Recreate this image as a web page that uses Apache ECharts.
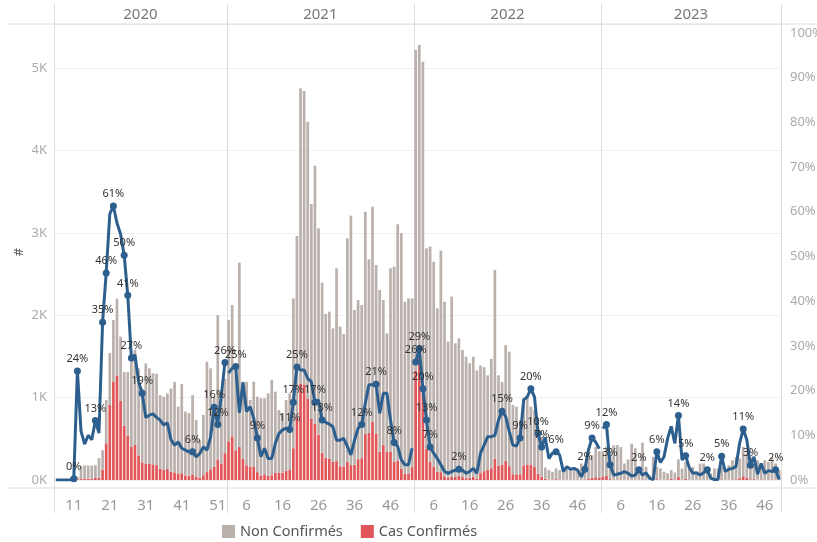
<!DOCTYPE html>
<html><head><meta charset="utf-8">
<script src="https://cdn.jsdelivr.net/npm/echarts@6/dist/echarts.min.js"></script>
<style>html,body{margin:0;padding:0;background:#fff}#c{width:817px;height:542px}</style>
</head><body><div id="c"></div>
<script>
// ---------- DATA ----------
const years = ['2020', '2021', '2022', '2023'];

const weeks2020 = [6,7,8,9,10,11,12,13,14,15,16,17,18,19,20,21,22,23,24,25,26,27,28,29,30,31,32,33,34,35,36,37,38,39,40,41,42,43,44,45,46,47,48,49,50,51,52,53];
const weeks2021 = [1,2,3,4,5,6,7,8,9,10,11,12,13,14,15,16,17,18,19,20,21,22,23,24,25,26,27,28,29,30,31,32,33,34,35,36,37,38,39,40,41,42,43,44,45,46,47,48,49,50,51,52];
const weeks2022 = [1,2,3,4,5,6,7,8,9,10,11,12,13,14,15,16,17,18,19,20,21,22,23,24,25,26,27,28,29,30,31,32,33,34,35,36,37,38,39,40,41,42,43,44,45,46,47,48,49,50,51,52];
const weeks2023 = [1,2,3,4,5,6,7,8,9,10,11,12,13,14,15,16,17,18,19,20,21,22,23,24,25,26,27,28,29,30,31,32,33,34,35,36,37,38,39,40,41,42,43,44,45,46,47,48,49,50];

// Cas Confirmés (red)
const conf2020 = [0,0,0,0,0,0,10,18,14,17,16,24,28,125,445,910,1190,1270,960,660,540,400,430,300,215,200,195,190,180,140,125,135,100,93,76,83,56,51,69,38,29,58,96,130,165,250,200,325];
const conf2021 = [470,530,360,400,260,180,160,165,95,52,70,50,58,88,88,90,113,122,386,760,1170,1160,990,740,680,550,330,270,260,220,229,166,165,220,180,184,253,265,560,570,705,565,344,424,345,344,225,233,135,74,75,156];
const conf2022 = [1330,1500,1050,380,220,160,100,95,45,25,42,36,50,35,22,27,39,20,83,107,123,143,255,170,188,233,168,71,68,69,177,188,187,158,77,40,14,6,6,10,7,2,4,3,4,3,1,5,17,28,34,25];
const conf2023 = [40,50,10,5,5,6,4,4,4,4,3,5,3,0,0,10,5,5,7,14,7,36,6,12,4,2,2,2,3,3,0,0,0,8,2,4,6,8,21,46,29,9,10,3,7,4,5,5,5,0];

// Non Confirmés (grey)
const non2020 = [0,0,0,0,0,0,30,152,161,158,159,156,237,235,525,630,750,930,780,650,770,1060,1150,1055,895,1215,1160,1105,1110,890,885,915,1010,1097,814,1082,774,759,961,692,461,732,1339,1225,845,1750,850,905];
const non2021 = [1472,1594,1040,2237,933,1013,811,1028,916,939,921,1002,1156,984,761,719,858,930,1818,2201,3583,3560,3358,2609,3134,2504,2065,1744,1783,1620,2340,1695,1607,2713,3028,1879,1931,1859,2696,2108,2612,2044,1962,1760,1435,2225,2364,2870,2860,2090,2129,2048];
const non2022 = [3888,3779,4026,2431,2612,2489,1983,2688,2119,1654,2183,1622,1669,1543,1475,1389,1458,1310,1307,1263,1147,1327,2293,1100,1002,1405,1389,839,822,659,814,823,703,692,550,486,136,114,94,130,113,98,136,117,146,127,199,175,233,272,366,325];
const non2023 = [310,354,290,415,420,394,196,246,436,381,117,448,157,60,280,150,135,95,73,106,83,214,134,208,156,158,98,198,197,137,80,140,140,152,98,176,234,272,239,354,291,271,190,237,173,236,215,275,195,120];

// % confirmés (line)
const pct2020 = [0,0,0,0,0,0.3,24.4,11,8,10,9,13.3,10.5,35.3,46.3,59.5,61.3,57.5,55,50.3,41.3,27.3,28,22,19.4,14,14.5,14.8,14,13.4,12.3,12.8,9,7.8,8.5,7.1,6.7,6.3,6.3,5.2,5.9,7.4,6.7,9.6,16.3,12.4,19,26.3];
const pct2021 = [23.9,25,25.4,15,21.8,15.3,16.4,13.8,9.4,5.2,7.1,4.8,4.8,8.2,10.4,11.2,11.6,11.3,17.4,25.3,24.6,24.6,22.7,22,17.4,17.9,13.4,12.9,12.5,11.9,8.9,8.9,9.3,7.5,5.6,8.9,11.6,12.4,17.2,21.3,21.3,21.4,14.9,19.4,19.4,13.4,8.4,7.5,4.5,3.4,3.4,7.1];
const pct2022 = [26.4,29.4,20.4,13.4,7.4,6,4.8,3.4,1.9,1.5,1.9,2.2,2.4,2.2,1.5,1.9,2.6,1.5,6,7.8,9.7,9.7,10,13.4,15.4,14.2,10.8,7.8,7.6,9.4,17.9,18.6,20.4,18.6,10.4,7.4,9.5,4.8,6,6.3,5.6,1.9,3,2.4,2.6,2.2,0.7,2.4,6.7,9.4,8.5,7];
const pct2023 = [11.5,12.4,3.4,1.1,1.3,1.5,1.9,1.5,0.9,1.1,2.3,1.1,1.6,0.4,0.1,6.3,3.9,5.2,9.3,12,8.2,14.4,4.5,5.4,2.8,1.5,1.6,1.1,1.6,2.3,0.4,0.1,0.1,5.3,1.9,2.4,2.6,3,8.2,11.4,9,3.3,5.2,1.3,3.7,1.5,2.1,1.9,2.3,0.1];

// weeks whose % value is labelled
const labelled2020 = [11,12,17,19,20,22,25,26,27,30,44,50,51,53];
const labelled2021 = [3,9,18,19,20,25,27,38,42,47];
const labelled2022 = [1,2,3,4,5,13,25,30,33,35,36,40,48,50];
const labelled2023 = [2,3,11,16,22,24,30,34,40,42,49];

// x tick labels shown
const ticks2020 = [11,21,31,41,51];
const ticks2021 = [6,16,26,36,46];
const ticks2022 = [6,16,26,36,46];
const ticks2023 = [6,16,26,36,46];

// ---------- BUILD ----------
const yearSets = [
  {year: years[0], weeks: weeks2020, conf: conf2020, non: non2020, pct: pct2020, lab: labelled2020, ticks: ticks2020},
  {year: years[1], weeks: weeks2021, conf: conf2021, non: non2021, pct: pct2021, lab: labelled2021, ticks: ticks2021},
  {year: years[2], weeks: weeks2022, conf: conf2022, non: non2022, pct: pct2022, lab: labelled2022, ticks: ticks2022},
  {year: years[3], weeks: weeks2023, conf: conf2023, non: non2023, pct: pct2023, lab: labelled2023, ticks: ticks2023}
];

const cats = [], confAll = [], nonAll = [], tickIdx = new Set(), bounds = [0];
yearSets.forEach(ys => {
  ys.weeks.forEach((w, i) => {
    if (ys.ticks.includes(w)) tickIdx.add(cats.length);
    cats.push(ys.year + '-' + w);
    confAll.push(ys.conf[i]);
    nonAll.push(ys.non[i]);
  });
  bounds.push(cats.length);
});

const FONT = '"Noto Sans", "Open Sans", sans-serif';
const LINE_COLOR = '#2d5f8e';

function lineSeries(k) {
  const data = [];
  yearSets.forEach((ys, y) => {
    ys.weeks.forEach((w, i) => {
      if (y !== k) { data.push('-'); return; }
      const v = ys.pct[i];
      if (ys.lab.includes(w)) {
        data.push({value: v, symbolSize: 7, label: {show: true}});
      } else {
        data.push({value: v, symbolSize: 0});
      }
    });
  });
  return {
    type: 'line', name: 'pct' + k, yAxisIndex: 1, data: data,
    symbol: 'circle', showSymbol: true, showAllSymbol: true,
    lineStyle: {color: LINE_COLOR, width: 3},
    itemStyle: {color: LINE_COLOR},
    label: {show: false, position: 'top', distance: 3, fontSize: 11, color: '#333', fontFamily: FONT,
      formatter: p => Math.round(p.value) + '%'},
    labelLayout: {hideOverlap: false},
    emphasis: {disabled: true}, z: 5, silent: true
  };
}

const chart = echarts.init(document.getElementById('c'), null, {renderer: 'canvas'});
const option = {
  animation: false,
  backgroundColor: '#fff',
  grid: {left: 54, right: 36, top: 24, bottom: 62, containLabel: false, outerBoundsMode: 'none'},
  legend: {
    data: ['Non Confirmés', 'Cas Confirmés'],
    left: 217, top: 519, icon: 'rect', itemWidth: 13, itemHeight: 13, itemGap: 18,
    textStyle: {fontSize: 14.5, color: '#555', fontFamily: FONT}, selectedMode: false
  },
  xAxis: {
    type: 'category', data: cats, boundaryGap: true,
    axisLine: {show: false}, axisTick: {show: false},
    axisLabel: {
      interval: (i) => tickIdx.has(i), margin: 18, fontSize: 15, color: '#999', fontFamily: FONT,
      formatter: v => v.split('-')[1]
    }
  },
  yAxis: [
    {type: 'value', min: 0, max: 5534, interval: 1000,
      name: '#', nameLocation: 'middle', nameGap: 28, nameRotate: 90, nameMoveOverlap: false,
      nameTextStyle: {fontSize: 13, color: '#555', fontFamily: FONT},
      axisLine: {show: false}, axisTick: {show: false},
      axisLabel: {formatter: v => (v / 1000) + 'K', fontSize: 13, color: '#aaa', margin: 7, fontFamily: FONT, showMaxLabel: false},
      splitLine: {lineStyle: {color: '#f0f0f0', width: 1}}},
    {type: 'value', min: 0, max: 102, interval: 10, position: 'right',
      axisLine: {show: false}, axisTick: {show: false},
      axisLabel: {formatter: '{value}%', fontSize: 13, color: '#aaa', margin: 9, fontFamily: FONT, showMaxLabel: false},
      splitLine: {show: false}}
  ],
  series: [
    {type: 'bar', name: 'Cas Confirmés', stack: 'tot', data: confAll, barCategoryGap: '25%',
      itemStyle: {color: '#e15759'}, emphasis: {disabled: true}, silent: true},
    {type: 'bar', name: 'Non Confirmés', stack: 'tot', data: nonAll, barCategoryGap: '25%',
      itemStyle: {color: '#bab0ac'}, emphasis: {disabled: true}, silent: true},
    lineSeries(0), lineSeries(1), lineSeries(2), lineSeries(3)
  ]
};
chart.setOption(option);

// panel frame and year headers positioned from the category axis
function edgeX(idx) {
  if (idx <= 0) {
    const a = chart.convertToPixel({xAxisIndex: 0}, cats[0]);
    const b = chart.convertToPixel({xAxisIndex: 0}, cats[1]);
    return a - (b - a) / 2;
  }
  if (idx >= cats.length) {
    const a = chart.convertToPixel({xAxisIndex: 0}, cats[cats.length - 1]);
    const b = chart.convertToPixel({xAxisIndex: 0}, cats[cats.length - 2]);
    return a + (a - b) / 2;
  }
  const a = chart.convertToPixel({xAxisIndex: 0}, cats[idx - 1]);
  const b = chart.convertToPixel({xAxisIndex: 0}, cats[idx]);
  return (a + b) / 2;
}
const zeroY = chart.convertToPixel({yAxisIndex: 0}, 0);
const topY = zeroY - 456;
const g = [];
const frameColor = '#dcdcdc';
g.push({type: 'line', shape: {x1: 8, y1: topY, x2: 817, y2: topY}, style: {stroke: frameColor, lineWidth: 1}, silent: true});
g.push({type: 'line', shape: {x1: 8, y1: zeroY + 8, x2: 817, y2: zeroY + 8}, style: {stroke: frameColor, lineWidth: 1}, silent: true});
bounds.forEach(b => {
  const x = Math.round(edgeX(b)) + 0.5;
  g.push({type: 'line', shape: {x1: x, y1: 4, x2: x, y2: zeroY + 33}, style: {stroke: frameColor, lineWidth: 1}, silent: true});
});
for (let k = 0; k < 4; k++) {
  const cx = (edgeX(bounds[k]) + edgeX(bounds[k + 1])) / 2;
  g.push({type: 'text', x: cx, y: topY - 9, style: {text: years[k], fontSize: 15, fill: '#777', fontFamily: FONT, align: 'center', verticalAlign: 'middle'}, silent: true});
}
chart.setOption({graphic: g});
</script>
</body></html>
